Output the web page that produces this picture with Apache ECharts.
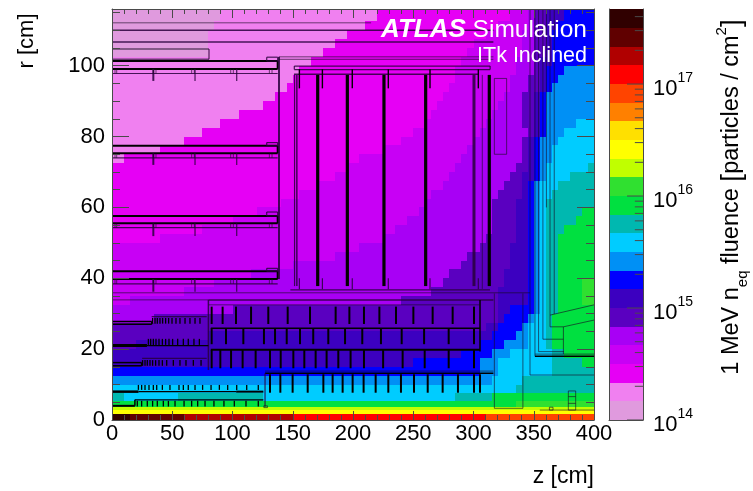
<!DOCTYPE html>
<html><head><meta charset="utf-8">
<script src="https://cdn.jsdelivr.net/npm/echarts@6/dist/echarts.min.js"></script>
<style>html,body{margin:0;padding:0;background:#fff}#c{width:753px;height:491px}</style>
</head><body><div id="c"></div>
<script>
const levelColors=['#e09ade','#f080f0','#e600f5','#c800f5','#a800f5','#5a00c0','#3c00c0','#0000ff','#0090f5','#00ccff','#00b8b0','#00e040','#30e030','#c0ff00','#ffff00','#ffe000','#ff8000','#ff4400','#ff0000','#b00000','#600000','#300000'];
const levelEdges=[1e14,1.47e14,2.15e14,3.16e14,4.64e14,6.81e14,1e15,1.47e15,2.15e15,3.16e15,4.64e15,6.81e15,1e16,1.47e16,2.15e16,3.16e16,4.64e16,6.81e16,1e17,1.47e17,2.15e17,3.16e17,4.68e17];
const rEdges=[116,112.5,110,107.5,105,102.5,100,97.5,95,92.5,90,87.5,85,82.5,80,77.5,75,72.5,70,67.5,65,62.5,60,57.5,55,52.5,50,47.5,45,42.5,40,37.5,35,32.5,30,27.5,25,22.5,20,17.5,15,12.5,10,7.5,5.5,3.8,2.8,1.7,0];
// each row: level, z where it ends, level, z where it ends ...
const fluenceRows=[
[0,90,1,220,2,330,3,345,4,350,5,360,6,375,7,400],
[0,85,1,210,2,320,3,345,4,350,5,360,6,370,7,400],
[0,80,1,195,2,310,3,340,4,350,5,360,6,365,7,400],
[0,80,1,185,2,300,3,340,4,350,5,360,6,365,7,400],
[0,80,1,175,2,295,3,340,4,350,5,360,6,365,7,400],
[1,165,2,290,3,335,4,350,5,355,6,365,7,400],
[1,155,2,285,3,335,4,350,5,355,6,360,7,375,8,400],
[1,150,2,285,3,330,4,345,5,355,6,360,7,370,8,400],
[1,145,2,280,3,330,4,345,5,355,6,360,7,365,8,400],
[1,135,2,275,3,325,4,340,5,350,6,355,7,360,8,400],
[1,125,2,270,3,320,4,340,5,350,6,355,7,360,8,400],
[1,105,2,265,3,315,4,340,5,350,6,355,7,360,8,400],
[1,90,2,260,3,310,4,340,5,350,6,355,7,360,8,385,9,400],
[1,75,2,250,3,305,4,345,5,350,6,355,7,360,8,375,9,400],
[1,60,2,240,3,300,4,340,5,345,6,350,7,355,8,370,9,400],
[1,40,2,225,3,295,4,340,5,345,6,350,7,355,8,365,9,400],
[1,10,2,205,3,290,4,340,5,345,6,350,7,355,8,365,9,400],
[2,195,3,285,4,335,5,345,6,350,7,355,8,360,9,395,10,400],
[2,185,3,280,4,330,5,340,6,350,7,355,8,360,9,380,10,400],
[2,170,3,275,4,325,5,340,6,345,7,350,8,355,9,370,10,400],
[2,155,3,265,4,320,5,340,6,345,7,350,8,355,9,365,10,400],
[2,140,3,260,4,315,5,335,6,345,7,350,8,355,9,360,10,400],
[2,120,3,255,4,315,5,335,6,345,7,350,8,355,9,360,10,390,11,400],
[2,100,3,245,4,315,5,335,6,345,7,350,8,355,9,360,10,385,11,400],
[2,75,3,235,4,315,5,335,6,345,7,350,8,355,9,360,10,375,11,400],
[2,40,3,225,4,310,5,335,6,345,7,350,8,355,9,360,10,370,11,400],
[3,205,4,305,5,330,6,345,7,350,8,355,9,360,10,370,11,400],
[3,185,4,295,5,330,6,345,7,350,8,355,9,360,10,370,11,400],
[3,150,4,290,5,330,6,345,7,350,8,355,9,360,10,370,11,400],
[3,115,4,280,5,325,6,345,7,350,8,355,9,360,10,370,11,400],
[3,85,4,275,5,325,6,345,7,350,8,355,9,360,10,370,11,390,12,400],
[3,60,4,265,5,320,6,345,7,350,8,355,9,360,10,370,11,390,12,400],
[3,15,4,240,5,320,6,345,7,350,8,355,9,360,10,370,11,390,12,400],
[4,100,5,320,6,330,7,350,8,355,9,360,10,370,11,400],
[4,35,5,320,6,325,7,345,8,350,9,360,10,365,11,400],
[5,310,6,320,7,340,8,345,9,360,10,365,11,400],
[5,80,6,315,7,335,8,345,9,360,10,365,11,400],
[5,20,6,305,7,325,8,345,9,360,10,365,11,400],
[6,290,7,315,8,330,9,365,10,375,11,400],
[6,250,7,305,8,320,9,365,10,390,11,400],
[7,305,8,320,9,365,10,400],
[8,315,9,340,10,400],
[9,335,10,400],
[10,10,9,55,10,125,9,285,10,315,11,400],
[11,335,12,400],
[13,400],
[14,400],
[21,15,20,60,19,150,18,310,17,400]
];
const colorbarTickMajor=[1e14,1e15,1e16,1e17];
const colorbarTickMinor=[2e14,3e14,4e14,5e14,6e14,7e14,8e14,9e14,2e15,3e15,4e15,5e15,6e15,7e15,8e15,9e15,2e16,3e16,4e16,5e16,6e16,7e16,8e16,9e16,2e17,3e17,4e17];
// detector layout in (z, r) cm
const stripBarrelA=[82.7,91.8,102.9,115.4,129.7,145.8,164.3,185.6,197,209.1,221.9,235.7,250.1,266.1,282.7,300.4];
const stripBarrelB=[82.7,94.6,109,126.1,135.3,145,156,167,179.5,193.4,207.7,223.2,240.4,259,279.4,300.4];
const stripBarrelC=[82.7,89.9,98.8,108.4,119.2,131.1,140,150.5,159.6,169,178.1,187.8,198,209.1,225,241.2,259.5,279.4,300.4];
const stripBarrelD=[131.1,139.7,149.9,162.4,175.4,183.1,191.4,199.7,208.8,218.8,229.3,239.8,250.6,262,274.4,287.1,300.4,305.4];
const pixelA=[33.7,35.7,37.6,39.8,42,44.5,47,49.8,53.1,56.4,60.6,64.7,68.9,73];
const pixelB=[30.2,32.1,34.3,36.5,39,41.8,44.5,47.3,50.3,54.5,59.2,63.3,68,72.5];
const pixelC=[25.4,27.4,29.3,31.5,33.7,36.2,39,41.8,45.4,50.9,56.4,61.4,67.5,73.9];
const pixelD=[21.9,24.6,27.4,30.7,34.3,37.1,41.8,48.1,55.6,59.2,63.3,68.9,75.2,82.2,89.1,96,103.5,111.8,121.4];
const pixelE=[21,24.6,29.3,33.7,37.6,42.6,46.8,52.3,59.8,66.1,71.1,77.2,84.6,92.9,101.5,111.2,121.4];
const staves=[[101.3,99.1,97.8,95.7,102.4],[77.4,75.3,74,72,78.3],[57.6,55.5,54.3,51.9,58.7],[42,39.8,38.4,36.2,42.8]];
const staveTicks=[34.3,68.9,103.5];
const staveBrackets=[2.5,3.9,34.3,36.5,66.1,68.3,98.5,100.7,130.6,132.8];
const discsHeavy=[170.7,195.3,225.7,260.3,313.1];
const discTicks=[155.5,174.6,199.4,229.3,263.9,304];
const xTicks=[0,50,100,150,200,250,300,350,400];

const segs=[];
const thin='rgba(25,10,35,0.62)',dark='#000',dim='rgba(40,0,60,0.85)';
function seg(a,b,c,d,w,col){segs.push([a,b,c,d,w===undefined?1:w,col||thin]);}
function box(a,b,c,d,w,col){seg(a,b,c,b,w,col);seg(a,d,c,d,w,col);seg(a,b,a,d,w,col);seg(c,b,c,d,w,col);}
staves.forEach(s=>{
  box(0,s[1],137.5,s[0],2,dark);
  seg(0,s[2],137.5,s[2],1.2,dim);
  box(128.4,s[0],137.5,s[4],1.2,dim);
  staveTicks.forEach((z,i)=>seg(z,s[1],z,s[3],i==0?2:1.2,dim));
  staveBrackets.forEach(z=>seg(z,s[1],z,s[2],1));
});
[[112.1,215],[110,316.5],[106.7,316.5]].forEach((l,i)=>seg(0,l[0],l[1],l[0],i?1.5:1,i?dim:thin));
box(0,101.8,80.5,104.7,1.5,thin);
seg(138.6,39.8,138.6,102.5,2,dim);
seg(138.6,102.5,316.5,102.5);seg(138.6,101.8,316.5,101.8);
box(151.3,98.9,313.8,99.9,1.2,dim);
seg(151,97.6,304,97.6,1.5,dim);
seg(151.5,37.8,151.5,97.4,1.2,dim);seg(153.4,37.8,153.4,97.4,1.5,dim);
discsHeavy.forEach(z=>seg(z,37.8,z,97.4,3.2,dark));
seg(300.4,37.8,300.4,97.4,3,dim);
seg(307.3,37,307.3,97.4);
discTicks.forEach(z=>{seg(z,99,z,93.6,1.4,dark);seg(z,40,z,36.9,1.2,dim);});
seg(148,36.7,313.7,36.7,1.2,dim);
box(317.3,75,327.5,96.4);
seg(0,35.9,346.9,35.9);
seg(0,33.9,80,33.9);seg(80,33.9,316.5,33.9,1.5,dim);seg(80,32.5,305,32.5);
seg(80,14.1,80,33.9,1.5,dim);
seg(305.4,19.3,305.4,33.9,1.5,dark);
stripBarrelA.forEach(z=>seg(z,32,z,27.1,2,dark));
seg(82,25.9,305.4,25.9,1.5,dark);
stripBarrelB.forEach(z=>seg(z,25.9,z,21.4,2,dark));
seg(82,19.8,305.4,19.8,2,dark);
stripBarrelC.forEach(z=>seg(z,19.8,z,14.6,2,dark));
seg(127,13.2,316.5,13.2,1.5,dark);seg(127,13.8,316.5,13.8,1);
seg(127,3.8,127,13.2,1.2,dim);box(126,3.5,129,4,1);
stripBarrelD.forEach(z=>seg(z,12.9,z,7.7,2,dark));
seg(32.9,29.2,78.6,29.2,1.2,dim);box(0,27,33,27.8,1.5,dark);
pixelA.forEach(z=>seg(z,28.8,z,27.2,1.3,dark));
seg(0,21,29,21,3,dark);seg(29,21,80,21,1.3,dark);
pixelB.forEach(z=>seg(z,22.9,z,21.2,1.3,dark));
seg(25,17.4,78.6,17.4,1.2,dim);box(0,15.3,24.6,16.2,1.5,dark);
pixelC.forEach(z=>seg(z,16.9,z,15.3,1.3,dark));
seg(0,8,22,8,2.5,dark);seg(22,8,103,8,1.2,dark);seg(103,8,125.6,8,2,dark);
pixelD.forEach(z=>seg(z,9.9,z,8.5,1.3,dark));
seg(0,4,19,4,2,dark);seg(19,4,19,5.7,1.5,dark);seg(19,5.7,125.6,5.7,1.3,dark);
pixelE.forEach(z=>seg(z,5.4,z,3.8,1.3,dark));
seg(317.3,3.3,317.3,35.7);seg(341,3.3,341,35.7);seg(317.3,3.3,341,3.3);
seg(346.9,12.7,346.9,116);seg(346.9,12.7,400,12.7);
seg(351,18,351,116);seg(351,18,400,18,1.5,dark);seg(351,18.6,400,18.6);
seg(354,19.3,354,116);seg(354,19.3,375,19.3);
seg(357.6,22.8,357.6,116);seg(357.6,22.8,374.6,22.8);
seg(360.5,60,360.5,116);
seg(363.5,26.3,363.5,116);seg(363.5,26.3,374.6,26.3);
seg(367,29.9,367,116);
seg(363.5,29.6,400,32.5);seg(374.6,26.3,400,28.2);seg(374.6,18.6,374.6,26.3);
box(378.7,2.8,384.8,8.2);seg(378.7,6.6,384.8,6.6);seg(378.7,4.7,384.8,4.7);
seg(355,2.8,400,2.8);box(363,2.8,366,3.6);

const cells=[];
fluenceRows.forEach((row,i)=>{let z=0;for(let k=0;k<row.length;k+=2){cells.push([z,row[k+1],rEdges[i+1],rEdges[i],row[k]]);z=row[k+1];}});
const barCells=levelColors.map((c,i)=>[levelEdges[i],levelEdges[i+1],i]);
const barTicks=colorbarTickMajor.map(v=>[v,0.47]).concat(colorbarTickMinor.map(v=>[v,0.24]));

const font='"Liberation Sans",Arial,sans-serif', axisCol='#4a4a4a';
const line={show:true,onZero:false,lineStyle:{color:axisCol,width:1}};
const off={show:false};
const xBase={type:'value',gridIndex:0,min:0,max:400,interval:50,z:10,axisLine:line,splitLine:off,
  axisTick:{show:true,inside:true,length:9,lineStyle:{color:axisCol}},
  minorTick:{show:true,splitNumber:5,length:5,lineStyle:{color:axisCol}}};
const yBase={type:'value',gridIndex:0,min:0,max:116,interval:20,z:10,axisLine:line,splitLine:off,
  axisTick:{show:true,inside:true,length:17,lineStyle:{color:axisCol}},
  minorTick:{show:true,splitNumber:4,length:8,lineStyle:{color:axisCol}}};
const chart=echarts.init(document.getElementById('c'),null,{renderer:'canvas'});
chart.setOption({
  animation:false,backgroundColor:'#fff',
  grid:[{left:112,right:159,top:9,bottom:71},{left:609,right:110,top:9,bottom:71}],
  xAxis:[
    Object.assign({},xBase,{position:'bottom',axisLabel:{show:true,color:'#000',fontFamily:font,fontSize:22,margin:3,formatter:v=>xTicks.includes(v)?String(v):''}}),
    Object.assign({},xBase,{position:'top',axisLabel:off}),
    {type:'value',gridIndex:1,min:0,max:1,position:'bottom',z:10,axisLine:line,axisTick:off,axisLabel:off,splitLine:off}
  ],
  yAxis:[
    Object.assign({},yBase,{position:'left',axisLabel:{show:true,color:'#000',fontFamily:font,fontSize:22,margin:7,formatter:v=>v%20===0?String(v):''}}),
    Object.assign({},yBase,{position:'right',axisLabel:off}),
    {type:'log',gridIndex:1,logBase:10,min:1e14,max:4.68e17,position:'right',z:10,axisLine:line,axisTick:off,splitLine:off,
      axisLabel:{show:true,margin:10,color:'#000',fontFamily:font,
        customValues:colorbarTickMajor,
        formatter:v=>'{b|10}{e|'+Math.round(Math.log10(v))+'}',
        rich:{b:{fontSize:22,fontFamily:font,lineHeight:32,verticalAlign:'bottom',color:'#000'},e:{fontSize:14,fontFamily:font,lineHeight:32,verticalAlign:'top',color:'#000',padding:[3,0,0,0]}}}},
    {type:'log',gridIndex:1,logBase:10,min:1e14,max:4.68e17,position:'left',z:10,axisLine:line,axisTick:off,axisLabel:off,splitLine:off}
  ],
  series:[
    {type:'custom',xAxisIndex:0,yAxisIndex:0,data:cells,z:2,silent:true,clip:true,
      renderItem:(p,api)=>{const a=api.coord([api.value(0),api.value(3)]),b=api.coord([api.value(1),api.value(2)]);
        const x=Math.round(a[0]),y=Math.round(a[1]);
        return {type:'rect',shape:{x:x,y:y,width:Math.round(b[0])-x,height:Math.round(b[1])-y},style:{fill:levelColors[api.value(4)]}};}},
    {type:'custom',xAxisIndex:0,yAxisIndex:0,data:segs.map((s,i)=>[s[0],s[1],s[2],s[3],s[4],i]),z:3,silent:true,clip:true,
      renderItem:(p,api)=>{const a=api.coord([api.value(0),api.value(1)]),b=api.coord([api.value(2),api.value(3)]);
        return {type:'line',shape:{x1:a[0],y1:a[1],x2:b[0],y2:b[1]},style:{stroke:segs[api.value(5)][5],lineWidth:api.value(4),fill:null}};}},
    {type:'custom',xAxisIndex:2,yAxisIndex:2,data:barCells,z:2,silent:true,
      encode:{y:[0,1]},
      renderItem:(p,api)=>{const a=api.coord([0,api.value(1)]),b=api.coord([1,api.value(0)]);
        const y=Math.round(a[1]);
        return {type:'rect',shape:{x:a[0],y:y,width:b[0]-a[0],height:Math.round(b[1])-y},style:{fill:levelColors[api.value(2)]}};}},
    {type:'custom',xAxisIndex:2,yAxisIndex:2,data:barTicks,z:3,silent:true,
      encode:{y:0},
      renderItem:(p,api)=>{const a=api.coord([1,api.value(0)]),b=api.coord([1-api.value(1),api.value(0)]);
        return {type:'line',shape:{x1:a[0],y1:a[1],x2:b[0],y2:b[1]},style:{stroke:axisCol,lineWidth:1,fill:null}};}}
  ],
  graphic:[
    {type:'text',z:20,x:587,y:30,style:{text:'{a|ATLAS}{s| Simulation}',align:'right',verticalAlign:'middle',fill:'#fff',
      rich:{a:{font:'italic bold 26px '+font,fill:'#fff'},s:{font:'24.5px '+font,fill:'#fff'}}}},
    {type:'text',z:20,x:587,y:56,style:{text:'ITk Inclined',font:'21.5px '+font,fill:'#fff',align:'right',verticalAlign:'middle'}},
    {type:'text',z:20,x:594,y:477,style:{text:'z [cm]',font:'23px '+font,fill:'#000',align:'right',verticalAlign:'middle'}},
    {type:'text',z:20,x:27,y:41,rotation:Math.PI/2,style:{text:'r [cm]',font:'22px '+font,fill:'#000',align:'center',verticalAlign:'middle'}},
    {type:'text',z:20,x:732,y:197,rotation:Math.PI/2,style:{
      text:'{a|1 MeV n}{s|eq}{a| fluence }{b|[}{a|particles / cm}{u|2}{b|]}',align:'center',verticalAlign:'middle',
      rich:{a:{font:'23.5px '+font,fill:'#000',lineHeight:36,verticalAlign:'middle'},
            s:{font:'15px '+font,fill:'#000',lineHeight:36,verticalAlign:'bottom'},
            u:{font:'15px '+font,fill:'#000',lineHeight:36,verticalAlign:'top'},
            b:{font:'28px '+font,fill:'#000',lineHeight:36,verticalAlign:'middle'}}}}
  ]
});
</script></body></html>
